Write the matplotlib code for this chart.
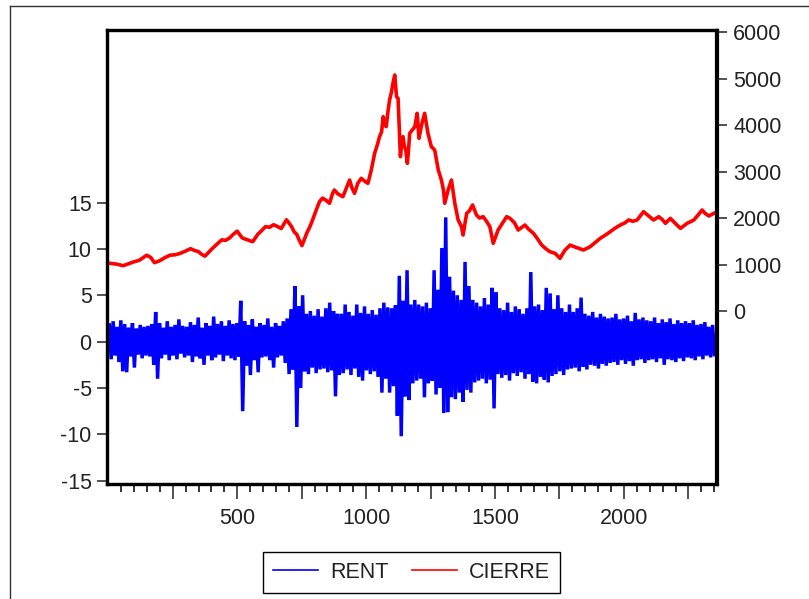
import numpy as np
import matplotlib
matplotlib.use("Agg")
import matplotlib.pyplot as plt
from matplotlib.lines import Line2D

plt.rcParams['font.family'] = ['Liberation Sans', 'DejaVu Sans']

# RENT: high / low of each block of 15 observations
rent_step = 15
rent_hi = [
    1.8, 2.2, 1.6, 2.3, 1.9, 1.5, 2.0, 1.4, 1.8, 1.6,
    1.7, 1.9, 3.2, 2.0, 1.5, 2.2, 1.6, 1.8, 2.4, 1.7,
    1.6, 2.1, 1.8, 2.6, 1.5, 2.0, 1.7, 2.7, 1.9, 2.2,
    1.7, 2.3, 1.9, 2.0, 4.4, 2.2, 1.8, 2.4, 1.6, 2.0,
    1.8, 2.5, 1.6, 2.0, 1.7, 2.2, 2.5, 3.5, 6.0, 3.8,
    5.0, 3.0, 3.3, 2.8, 3.5, 2.7, 3.6, 4.2, 3.3, 3.0,
    3.0, 4.0, 3.2, 2.8, 4.0, 3.1, 3.8, 3.0, 3.4, 2.9,
    3.6, 4.2, 3.7, 3.6, 3.9, 7.1, 4.4, 7.7, 4.0, 4.5,
    4.0, 3.8, 4.2, 3.6, 7.7, 5.6, 10.1, 13.4, 7.0, 5.5,
    5.0, 4.5, 8.6, 6.0, 4.5, 4.2, 3.8, 4.7, 4.0, 5.8,
    5.3, 3.6, 3.4, 4.2, 3.2, 3.8, 3.5, 3.0, 3.6, 7.5,
    3.8, 4.0, 3.4, 5.8, 5.2, 3.5, 5.0, 3.6, 3.2, 4.0,
    3.2, 3.6, 4.75, 3.0, 2.8, 3.2, 2.6, 3.0, 2.7, 2.5,
    2.6, 3.0, 2.4, 2.5, 2.8, 2.2, 3.1, 2.4, 2.6, 2.3,
    2.2, 2.6, 2.0, 2.4, 2.1, 2.5, 1.9, 2.3, 2.0, 2.2,
    2.0, 2.3, 1.8, 1.9, 2.1, 1.6, 1.8,
]
rent_lo = [
    -1.9, -1.5, -2.2, -3.2, -3.3, -1.6, -2.8, -1.4, -1.8, -1.5,
    -1.6, -2.5, -4.0, -1.8, -1.4, -2.0, -1.5, -1.9, -1.3, -1.7,
    -1.5, -2.2, -1.6, -1.8, -2.5, -1.5, -2.0, -1.7, -1.4, -2.1,
    -1.5, -1.8, -2.0, -1.6, -7.5, -2.6, -3.6, -2.0, -3.3, -1.7,
    -1.6, -2.0, -2.8, -1.7, -1.5, -2.3, -3.5, -3.0, -9.2, -5.0,
    -3.2, -3.5, -2.8, -3.4, -3.0, -2.9, -3.3, -3.1, -5.9, -3.6,
    -3.4, -3.0, -3.6, -2.9, -3.8, -4.2, -3.1, -3.5, -3.2, -3.8,
    -5.5, -4.0, -5.5, -4.8, -8.0, -10.2, -5.9, -6.3, -4.5, -4.2,
    -4.0, -6.0, -4.5, -4.2, -5.7, -5.0, -7.7, -7.6, -6.0, -6.2,
    -5.5, -6.5, -5.2, -5.5, -4.4, -4.2, -4.0, -4.5, -4.1, -7.2,
    -3.5, -3.9, -3.6, -4.2, -3.4, -3.7, -3.3, -4.0, -3.5, -4.3,
    -4.5, -3.8, -4.1, -4.4, -3.7, -3.5, -3.2, -3.6, -3.0, -2.9,
    -2.8, -3.2, -2.7, -3.0, -2.5, -2.6, -2.9, -2.4, -2.6, -2.3,
    -2.2, -2.5, -2.0, -2.4, -2.1, -2.6, -2.0, -1.9, -2.3, -2.0,
    -1.9, -2.2, -1.8, -2.5, -1.9, -2.0, -2.2, -1.8, -2.1, -1.7,
    -1.8, -2.0, -1.6, -1.9, -1.5, -1.7, -1.4,
]

# CIERRE: observation number and closing level
cierre_obs = [
    1, 30, 58, 80, 98, 120, 149, 165, 179, 199, 220, 239, 260, 279, 300,
    319, 335, 349, 362, 375, 400, 420, 440, 455, 470, 485, 500, 510, 520,
    540, 560, 580, 595, 610, 625, 641, 655, 671, 691, 700, 711, 721, 731,
    741, 751, 761, 771, 781, 791, 805, 819, 831, 845, 858, 870, 877, 890,
    910, 923, 936, 945, 955, 968, 981, 995, 1007, 1020, 1033, 1045, 1052,
    1060, 1066, 1072, 1078, 1085, 1091, 1098, 1104, 1111, 1118, 1124, 1128,
    1133, 1138, 1143, 1148, 1154, 1160, 1165, 1169, 1180, 1189, 1198, 1205,
    1215, 1227, 1240, 1253, 1266, 1280, 1292, 1300, 1305, 1318, 1331, 1344,
    1357, 1370, 1376, 1390, 1400, 1413, 1428, 1440, 1454, 1467, 1480, 1493,
    1512, 1530, 1545, 1558, 1575, 1590, 1616, 1630, 1649, 1665, 1681, 1697,
    1713, 1733, 1752, 1770, 1791, 1808, 1824, 1843, 1869, 1890, 1908, 1930,
    1947, 1965, 1986, 2005, 2018, 2035, 2051, 2076, 2095, 2115, 2135, 2150,
    2161, 2180, 2200, 2219, 2232, 2245, 2258, 2271, 2290, 2303, 2315, 2329,
    2349,
]
cierre = [
    1030, 1010, 975, 1020, 1055, 1090, 1200, 1150, 1040, 1080, 1150, 1200,
    1210, 1240, 1290, 1340, 1300, 1280, 1220, 1180, 1325, 1430, 1530, 1520,
    1570, 1650, 1717, 1640, 1570, 1530, 1490, 1650, 1730, 1815, 1800, 1856,
    1820, 1775, 1962, 1900, 1815, 1700, 1650, 1520, 1406, 1550, 1690, 1800,
    1938, 2150, 2351, 2428, 2380, 2316, 2531, 2602, 2520, 2459, 2638, 2817,
    2650, 2531, 2750, 2853, 2790, 2746, 3032, 3391, 3600, 3749, 3850, 4179,
    4050, 3964, 4300, 4538, 4700, 4896, 5075, 4609, 4573, 4000, 3319, 3600,
    3749, 3550, 3462, 3176, 3500, 3821, 3900, 3964, 4251, 3713, 4000, 4251,
    3821, 3534, 3462, 3032, 2817, 2600, 2316, 2602, 2817, 2316, 1957, 1813,
    1634, 2101, 2150, 2280, 2065, 2000, 2029, 1930, 1813, 1456, 1742, 1900,
    2029, 1993, 1900, 1742, 1849, 1760, 1671, 1550, 1419, 1340, 1275, 1240,
    1133, 1300, 1419, 1380, 1348, 1312, 1383, 1480, 1563, 1640, 1706, 1780,
    1849, 1900, 1957, 1930, 1957, 2136, 2050, 1957, 2029, 1960, 1886, 1993,
    1880, 1778, 1830, 1886, 1920, 1957, 2080, 2172, 2100, 2043, 2101,
]

left_ticks = [-15, -10, -5, 0, 5, 10, 15]
right_ticks = [0, 1000, 2000, 3000, 4000, 5000, 6000]
x_labels = {500: '500', 1000: '1000', 1500: '1500', 2000: '2000'}

# interleave block highs and lows into one dense trace
starts = np.arange(len(rent_hi)) * rent_step
rent_x = np.column_stack([starts + 3.75, starts + 11.25]).ravel()
rent_y = np.column_stack([rent_hi, rent_lo]).ravel()

W, H = 809, 599
fig = plt.figure(figsize=(W / 100, H / 100), dpi=100)
ax = fig.add_axes([107 / W, 1 - 484 / H, (716.5 - 107) / W, (484 - 30) / H])
ax2 = ax.twinx()

ax.plot(rent_x, rent_y, color='#0000ff', lw=2.5, label='RENT',
        solid_joinstyle='miter')
ax2.plot(cierre_obs, cierre, color='#ff0000', lw=2.6, label='CIERRE')

ax.set_xlim(-5, 2359)
ax.set_ylim(-15.35, 33.6)
ax2.set_ylim(-3720, 6043)

ax.set_yticks(left_ticks)
ax.set_yticklabels([str(v) for v in left_ticks])
ax2.set_yticks(right_ticks)
ax2.set_yticklabels([str(v) for v in right_ticks])

major = list(range(250, 2351, 250))
ax.set_xticks(major)
ax.set_xticklabels([x_labels.get(m, '') for m in major])
ax.set_xticks(range(50, 2351, 50), minor=True)

fs = 15.5
ax.tick_params(axis='y', direction='out', length=7, width=1.1, pad=4,
               labelsize=fs, colors='#222222')
ax2.tick_params(axis='y', direction='out', length=8, width=1.1, pad=4,
                labelsize=fs, colors='#222222')
ax.tick_params(axis='x', which='major', direction='out', length=11, width=1.1,
               pad=6, labelsize=fs, colors='#222222')
ax.tick_params(axis='x', which='minor', direction='out', length=6, width=1.1)

for a in (ax, ax2):
    for s in a.spines.values():
        s.set_linewidth(2.3)
        s.set_color('black')

# outer panel border (top and left edges)
fig.add_artist(Line2D([10 / W, 10 / W], [0, 1 - 5.7 / H], color='#333333',
                      lw=1.0, transform=fig.transFigure))
fig.add_artist(Line2D([10 / W, 1], [1 - 5.7 / H, 1 - 5.7 / H], color='#333333',
                      lw=1.0, transform=fig.transFigure))

handles = [Line2D([], [], color='#0000ff', lw=1.2),
           Line2D([], [], color='#ff0000', lw=1.2)]
leg = fig.legend(handles, ['RENT', 'CIERRE'], loc='center',
                 bbox_to_anchor=(411.5 / W, 1 - 572.5 / H), ncol=2,
                 fontsize=fs, frameon=True, fancybox=False, framealpha=1,
                 edgecolor='black', handlelength=2.1, handletextpad=0.55,
                 columnspacing=1.1, borderpad=0.45, borderaxespad=0)
leg.get_frame().set_linewidth(1.0)
for t in leg.get_texts():
    t.set_color('#222222')

fig.savefig('out.png', dpi=100)
